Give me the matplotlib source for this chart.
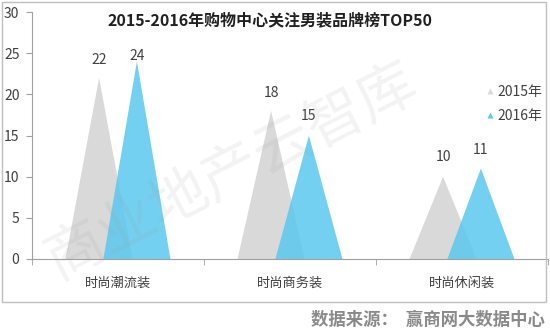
import matplotlib.pyplot as plt
from matplotlib.patches import Polygon, Rectangle
from matplotlib.lines import Line2D
import numpy as np

plt.rcParams['font.family'] = ['Noto Sans CJK SC', 'DejaVu Sans']

categories = ["时尚潮流装", "时尚商务装", "时尚休闲装"]
series_names = ["2015年", "2016年"]
values_2015 = [22, 18, 10]
values_2016 = [24, 15, 11]
yticks = [0, 5, 10, 15, 20, 25, 30]

title = "2015-2016年购物中心关注男装品牌榜TOP50"
source = "数据来源：  赢商网大数据中心"
watermark = "商业地产云智库"

gray = "#d9d9d9"
blue = "#5cc8ee"
text_col = "#404040"

fig = plt.figure(figsize=(5.5, 3.34), dpi=100)
fig.patch.set_facecolor("white")

# outer chart frame
fig.add_artist(Rectangle((2 / 550, 1 - 302 / 334), 544 / 550, 300 / 334,
                         transform=fig.transFigure, fill=False,
                         edgecolor="#bfbfbf", linewidth=1.0))

ax = fig.add_axes([32 / 550, 1 - 259 / 334, 516 / 550, 247 / 334])
ax.set_xlim(0, 3)
ax.set_ylim(0, 30)

offset = 0.11   # shift of each series from the category centre
half_w = 0.195  # half base width of a triangle


def triangle(xc, h, color, alpha, z):
    poly = Polygon([(xc - half_w, 0), (xc, h), (xc + half_w, 0)],
                   closed=True, facecolor=color, edgecolor="none",
                   alpha=alpha, zorder=z)
    ax.add_patch(poly)


label_gap_2015 = [2.2, 2.2, 2.4]
label_gap_2016 = [0.6, 2.4, 2.2]
for i in range(len(categories)):
    xc = i + 0.5
    triangle(xc - offset, values_2015[i], gray, 1.0, 2)
    triangle(xc + offset, values_2016[i], blue, 0.85, 3)
    ax.text(xc - offset, values_2015[i] + label_gap_2015[i], str(values_2015[i]),
            ha="center", va="center", fontsize=10, color=text_col)
    ax.text(xc + offset, values_2016[i] + label_gap_2016[i], str(values_2016[i]),
            ha="center", va="center", fontsize=10, color=text_col)

ax.set_yticks(yticks)
ax.set_yticklabels([str(t) for t in yticks], fontsize=10, color=text_col)
ax.set_xticks([0.5, 1.5, 2.5])
ax.set_xticklabels(categories, fontsize=9.5, color=text_col)
ax.set_xticks([0, 1, 2, 3], minor=True)
ax.tick_params(axis="x", which="major", length=0, pad=13)
ax.tick_params(axis="x", which="minor", length=4, color="#a0a0a0", direction="out")
ax.tick_params(axis="y", length=4, color="#a0a0a0", direction="out", pad=5)
for s in ["top", "right"]:
    ax.spines[s].set_visible(False)
ax.spines["left"].set_color("#a0a0a0")
ax.spines["bottom"].set_color("#a0a0a0")
ax.set_facecolor("none")

fig.text(270 / 550, 1 - 20 / 334, title, ha="center", va="center",
         fontsize=11.5, fontweight="bold", color="#202020")

# legend
handles = [Line2D([], [], marker="^", linestyle="none", markersize=4.5,
                  markerfacecolor=gray, markeredgecolor="none"),
           Line2D([], [], marker="^", linestyle="none", markersize=4.5,
                  markerfacecolor=blue, markeredgecolor="none")]
fig.legend(handles, series_names, loc="center left",
           bbox_to_anchor=(484 / 550, 1 - 104 / 334), frameon=False,
           fontsize=10, labelcolor=text_col, handletextpad=0.1,
           handlelength=0.9, labelspacing=0.75, borderpad=0,
           borderaxespad=0)

# watermark
fig.text(232 / 550, 1 - 172 / 334, watermark, ha="center", va="center",
         fontsize=42, color="#9a9a9a", alpha=0.12, rotation=27,
         zorder=10)

fig.text(545 / 550, 1 - 320 / 334, source, ha="right", va="center",
         fontsize=12.5, fontweight="bold", color="#8a8a8a")

fig.savefig("out.png", dpi=100, facecolor="white")
